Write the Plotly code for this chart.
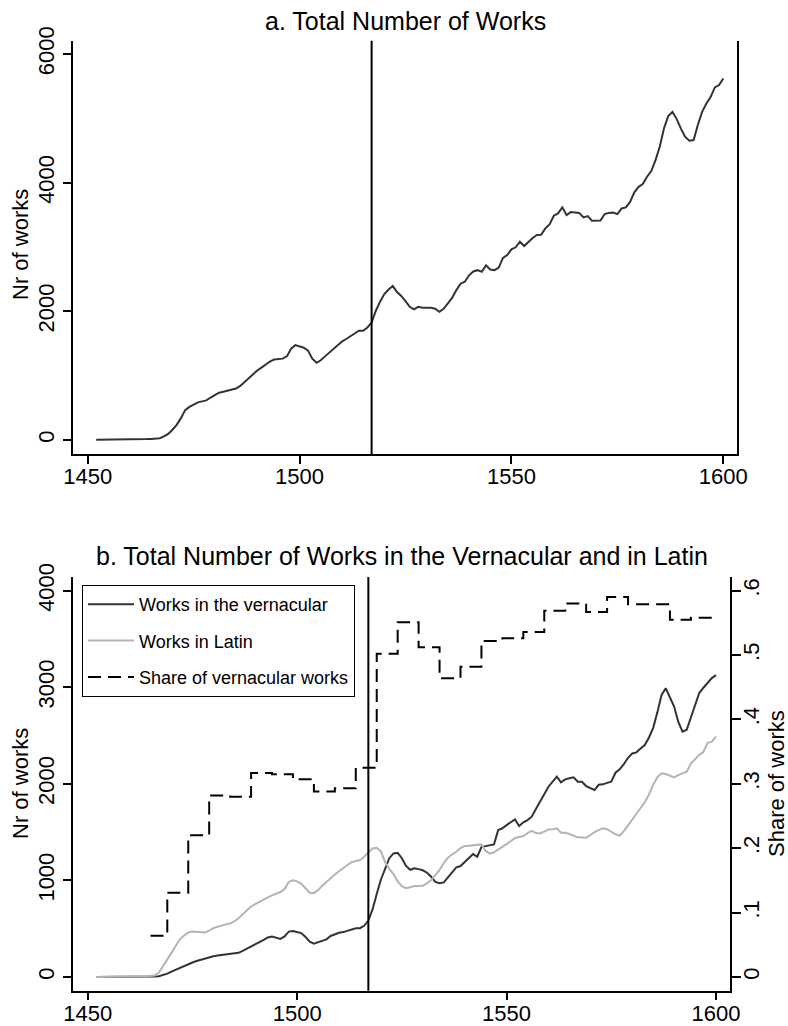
import plotly.graph_objects as go

# ---------------- data ----------------
years = list(range(1452, 1601))

total_works = [
    5, 5, 5, 5, 5, 6, 6, 7, 8, 9, 10, 12, 14, 17, 20,            # 1452-1466
    28, 55, 95, 160, 235, 340, 465, 515, 555, 585,               # 1467-1476
    600, 615, 660, 700, 735, 750, 765, 780, 800, 840,            # 1477-1486
    900, 960, 1030, 1080, 1125, 1170, 1220, 1250, 1255, 1265,    # 1487-1496
    1300, 1420, 1475, 1460, 1435, 1390, 1265, 1200, 1240, 1300,  # 1497-1506
    1360, 1415, 1475, 1530, 1570, 1610, 1660, 1700, 1698, 1750,  # 1507-1516
    1825, 2010, 2150, 2270, 2340, 2393, 2300, 2240, 2160, 2070,  # 1517-1526
    2030, 2070, 2055, 2060, 2056, 2040, 1994, 2040, 2120, 2210,  # 1527-1536
    2330, 2430, 2460, 2560, 2620, 2640, 2616, 2715, 2650, 2640,  # 1537-1546
    2680, 2830, 2875, 2963, 2995, 3082, 3015, 3080, 3140, 3186,  # 1547-1556
    3190, 3290, 3352, 3486, 3522, 3616, 3496, 3543, 3540, 3530,  # 1557-1566
    3460, 3481, 3408, 3408, 3410, 3512, 3530, 3535, 3512, 3600,  # 1567-1576
    3616, 3700, 3850, 3935, 3978, 4092, 4180, 4351, 4558, 4844,  # 1577-1586
    5035, 5102, 4988, 4840, 4710, 4651, 4662, 4900, 5100, 5230,  # 1587-1596
    5330, 5481, 5517, 5620,                                      # 1597-1600
]

vernacular_works = [
    0, 0, 0, 0, 0, 1, 1, 1, 1, 2, 2, 2, 3, 3, 4,                 # 1452-1466
    8, 18, 35, 55, 75, 95, 115, 131, 150, 165,                   # 1467-1476
    178, 195, 205, 215, 223, 228, 232, 235, 240, 250,            # 1477-1486
    270, 295, 320, 340, 362, 385, 410, 418, 410, 395,            # 1487-1496
    420, 470, 475, 465, 455, 415, 365, 345, 360, 375,            # 1497-1506
    390, 425, 445, 458, 465, 478, 487, 504, 505, 530,            # 1507-1516
    585, 700, 860, 1010, 1120, 1230, 1280, 1285, 1230, 1150,     # 1517-1526
    1110, 1125, 1117, 1105, 1080, 1038, 985, 970, 980, 1030,     # 1527-1536
    1090, 1135, 1149, 1190, 1240, 1273, 1245, 1345, 1355, 1362,  # 1537-1546
    1373, 1522, 1540, 1573, 1600, 1632, 1563, 1601, 1625, 1660,  # 1547-1556
    1740, 1815, 1901, 1970, 2022, 2074, 2015, 2046, 2057, 2067,  # 1557-1566
    2022, 2022, 1977, 1955, 1936, 1990, 1995, 2010, 2022, 2115,  # 1567-1576
    2150, 2205, 2270, 2315, 2326, 2365, 2402, 2480, 2580, 2740,  # 1577-1586
    2920, 2990, 2900, 2800, 2640, 2540, 2560, 2690, 2820, 2940,  # 1587-1596
    2995, 3050, 3095, 3126,                                      # 1597-1600
]

latin_works = [
    0, 0, 1, 1, 2, 2, 3, 3, 4, 5, 6, 7, 8, 10, 15,               # 1452-1466
    45, 110, 180, 250, 320, 390, 430, 460, 470, 468,             # 1467-1476
    460, 462, 480, 505, 520, 535, 545, 553, 575, 608,            # 1477-1486
    650, 694, 730, 755, 780, 800, 825, 845, 860, 880,            # 1487-1496
    910, 985, 1002, 990, 965, 915, 872, 868, 900, 945,           # 1497-1506
    985, 1030, 1060, 1095, 1130, 1160, 1190, 1200, 1211, 1245,   # 1507-1516
    1290, 1330, 1338, 1300, 1190, 1120, 1065, 990, 940, 920,     # 1517-1526
    930, 942, 942, 945, 970, 1004, 1055, 1108, 1180, 1235,       # 1527-1536
    1270, 1297, 1335, 1356, 1358, 1362, 1365, 1373, 1305, 1278,  # 1537-1546
    1290, 1318, 1355, 1380, 1405, 1440, 1452, 1459, 1490, 1514,  # 1547-1556
    1490, 1487, 1505, 1528, 1530, 1539, 1494, 1494, 1480, 1462,  # 1557-1566
    1446, 1444, 1443, 1470, 1500, 1520, 1539, 1530, 1500, 1478,  # 1567-1576
    1463, 1510, 1570, 1625, 1690, 1750, 1810, 1890, 1990, 2070,  # 1577-1586
    2108, 2102, 2085, 2067, 2090, 2110, 2125, 2210, 2260, 2300,  # 1587-1596
    2332, 2425, 2436, 2488,                                      # 1597-1600
]

share_years = [1465, 1469, 1474, 1479, 1484, 1489, 1494, 1499, 1504, 1509,
               1514, 1519, 1524, 1529, 1534, 1539, 1544, 1549, 1554, 1559,
               1564, 1569, 1574, 1579, 1584, 1589, 1594, 1600]
share_vernacular = [0.064, 0.131, 0.220, 0.282, 0.280, 0.317, 0.315, 0.307, 0.288, 0.293,
                    0.325, 0.502, 0.551, 0.512, 0.464, 0.482, 0.522, 0.526, 0.536, 0.569,
                    0.580, 0.567, 0.590, 0.579, 0.579, 0.555, 0.558, 0.558]

reformation_year = 1517

x_ticks = [1450, 1500, 1550, 1600]
y_ticks_a = [0, 2000, 4000, 6000]
y_ticks_b = [0, 1000, 2000, 3000, 4000]
share_ticks = [0, 0.1, 0.2, 0.3, 0.4, 0.5, 0.6]
share_tick_labels = ["0", ".1", ".2", ".3", ".4", ".5", ".6"]

title_a = "a. Total Number of Works"
title_b = "b. Total Number of Works in the Vernacular and in Latin"
y_title = "Nr of works"
y2_title = "Share of works"

# ---------------- figure ----------------
W, H = 788, 1026
FONT = "Liberation Sans, Arial, sans-serif"
TICK_FONT = dict(family=FONT, size=22, color="black")


def px_x(p):
    return p / W


def px_y(p):
    return 1 - p / H


fig = go.Figure()

fig.add_trace(go.Scatter(x=years, y=total_works, mode="lines",
                         line=dict(color="#333333", width=2),
                         xaxis="x", yaxis="y", showlegend=False))

fig.add_trace(go.Scatter(x=years, y=vernacular_works, mode="lines",
                         name="Works in the vernacular", legendgroup="g1",
                         line=dict(color="#333333", width=2),
                         xaxis="x2", yaxis="y2"))
fig.add_trace(go.Scatter(x=years, y=latin_works, mode="lines",
                         name="Works in Latin", legendgroup="g2",
                         line=dict(color="#b4b4b4", width=2),
                         xaxis="x2", yaxis="y2"))
fig.add_trace(go.Scatter(x=share_years, y=share_vernacular, mode="lines",
                         name="Share of vernacular works", legendgroup="g3",
                         line=dict(color="black", width=2, shape="hv", dash="13px,7px"),
                         xaxis="x2", yaxis="y3"))

axis_common = dict(showgrid=False, zeroline=False, showline=True, linecolor="black",
                   linewidth=1.5, ticks="outside", tickcolor="black", tickwidth=1.5,
                   tickfont=TICK_FONT, automargin=False)

fig.update_layout(
    width=W, height=H,
    margin=dict(l=0, r=0, t=0, b=0),
    paper_bgcolor="white", plot_bgcolor="white",
    font=dict(family=FONT, color="black"),
    showlegend=True,
    legend=dict(x=px_x(82), y=px_y(585), xanchor="left", yanchor="top",
                bgcolor="white", bordercolor="black", borderwidth=1,
                font=dict(family=FONT, size=18, color="black"),
                tracegroupgap=10, traceorder="grouped", itemwidth=46),
    xaxis=dict(axis_common, domain=[px_x(73.3), px_x(737)], range=[1446.6, 1603.23],
               tickvals=x_ticks, tickformat="d", ticklen=8, ticklabelstandoff=-6,
               anchor="y"),
    yaxis=dict(axis_common, domain=[px_y(454), px_y(40.7)], range=[-217.6, 6207],
               tickvals=y_ticks_a, tickformat="d", tickangle=-90, ticklen=9,
               mirror=True, anchor="x"),
    xaxis2=dict(axis_common, domain=[px_x(73.3), px_x(730)], range=[1446.56, 1603.34],
                tickvals=x_ticks, tickformat="d", ticklen=8, ticklabelstandoff=-6,
                anchor="y2"),
    yaxis2=dict(axis_common, domain=[px_y(990.7), px_y(577)], range=[-141.9, 4141.6],
                tickvals=y_ticks_b, tickformat="d", tickangle=-90, ticklen=9,
                anchor="x2"),
    yaxis3=dict(axis_common, overlaying="y2", side="right", anchor="x2",
                range=[-0.02128, 0.62124], tickvals=share_ticks, ticktext=share_tick_labels,
                tickangle=-90, ticklen=9, ticklabelstandoff=-8),
)

for xr, yr in (("x", "y domain"), ("x2", "y2 domain")):
    fig.add_shape(type="line", xref=xr, yref=yr, x0=reformation_year, x1=reformation_year,
                  y0=0, y1=1, line=dict(color="black", width=2))

ann_font = dict(family=FONT, size=25, color="black")
lab_font = dict(family=FONT, size=22, color="black")
fig.add_annotation(text=title_a, x=px_x(405), y=px_y(21), xref="paper", yref="paper",
                   xanchor="center", yanchor="middle", showarrow=False, font=ann_font)
fig.add_annotation(text=title_b, x=px_x(401.5), y=px_y(556), xref="paper", yref="paper",
                   xanchor="center", yanchor="middle", showarrow=False, font=ann_font)
fig.add_annotation(text=y_title, x=px_x(20), y=px_y(245), xref="paper", yref="paper",
                   xanchor="center", yanchor="middle", textangle=-90, showarrow=False,
                   font=lab_font)
fig.add_annotation(text=y_title, x=px_x(20), y=px_y(784), xref="paper", yref="paper",
                   xanchor="center", yanchor="middle", textangle=-90, showarrow=False,
                   font=lab_font)
fig.add_annotation(text=y2_title, x=px_x(776), y=px_y(784), xref="paper", yref="paper",
                   xanchor="center", yanchor="middle", textangle=-90, showarrow=False,
                   font=lab_font)

fig.write_html("out.html")
